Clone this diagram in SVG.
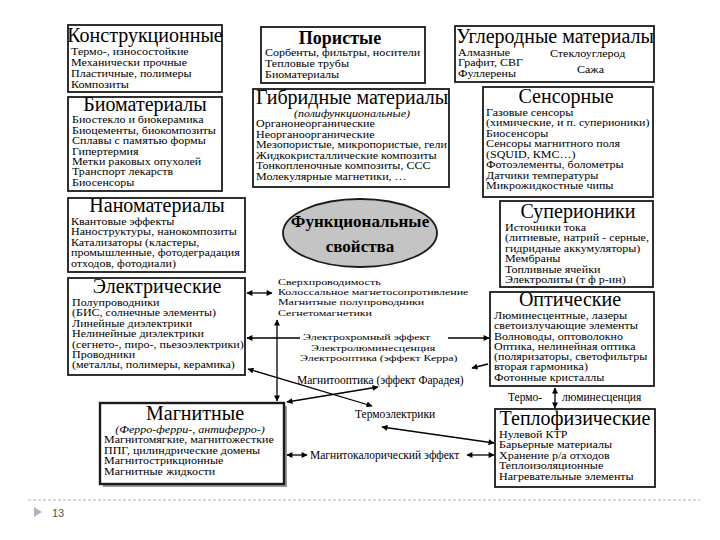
<svg xmlns="http://www.w3.org/2000/svg" width="720" height="540" viewBox="0 0 720 540">
<style>
.box{fill:#fff;stroke:#1a1a1a;stroke-width:1.8}
.sh{fill:#9a9a9a}
.t{font-family:"Liberation Serif",serif;font-size:20px;fill:#000;text-anchor:middle}
.b{font-family:"Liberation Serif",serif;font-size:9.4px;fill:#000}
.m{font-family:"Liberation Serif",serif;font-size:9.2px;fill:#000}
.s{font-family:"Liberation Serif",serif;font-size:11.5px;fill:#000}
.i{font-family:"Liberation Serif",serif;font-size:9.4px;font-style:italic;fill:#000;text-anchor:middle}
.c{stroke:#000;stroke-width:1.3;fill:none;marker-start:url(#ah);marker-end:url(#ah)}
.e{stroke:#000;stroke-width:1.3;fill:none;marker-end:url(#ah)}
</style>
<defs>
<marker id="ah" viewBox="0 0 10 10" refX="9" refY="5" markerWidth="8" markerHeight="6" markerUnits="userSpaceOnUse" orient="auto-start-reverse"><path d="M0,0L10,5L0,10z" fill="#000"/></marker>
</defs>
<rect width="720" height="540" fill="#fff"/>

<g id="konstr">
<rect class="box" x="68" y="25" width="154" height="67"/>
<text class="t" x="145" y="42">Конструкционные</text>
<g transform="matrix(1.28,0,0,1,-19.88,0)">
<text class="b" x="71" y="55">Термо-, износостойкие</text>
<text class="b" x="71" y="66">Механически прочные</text>
<text class="b" x="71" y="77">Пластичные, полимеры</text>
<text class="b" x="71" y="88">Композиты</text>
</g>
</g>

<g id="porist">
<rect class="box" x="261" y="27" width="164" height="56"/>
<text class="t" x="340" y="44" style="font-weight:bold;font-size:18px">Пористые</text>
<g transform="matrix(1.28,0,0,1,-74.2,0)">
<text class="b" x="265" y="56">Сорбенты, фильтры, носители</text>
<text class="b" x="265" y="67">Тепловые трубы</text>
<text class="b" x="265" y="78">Биоматериалы</text>
</g>
</g>

<g id="uglerod">
<rect class="box" x="455" y="26" width="199" height="56"/>
<text class="t" x="555" y="43">Углеродные материалы</text>
<g transform="matrix(1.28,0,0,1,-128.24,0)">
<text class="b" x="458" y="56">Алмазные</text>
<text class="b" x="458" y="66.5">Графит, СВГ</text>
<text class="b" x="458" y="77">Фуллерены</text>
<text class="b" x="529.9" y="57">Стеклоуглерод</text>
<text class="b" x="551" y="73">Сажа</text>
</g>
</g>

<g id="bio">
<rect class="box" x="68" y="97" width="154" height="94"/>
<text class="t" x="145" y="110.5">Биоматериалы</text>
<g transform="matrix(1.28,0,0,1,-20.16,0)">
<text class="b" x="72" y="123.5">Биостекло и биокерамика</text>
<text class="b" x="72" y="133.9">Биоцементы, биокомпозиты</text>
<text class="b" x="72" y="144.3">Сплавы с памятью формы</text>
<text class="b" x="72" y="154.7">Гипертермия</text>
<text class="b" x="72" y="165.1">Метки раковых опухолей</text>
<text class="b" x="72" y="175.5">Транспорт лекарств</text>
<text class="b" x="72" y="185.9">Биосенсоры</text>
</g>
</g>

<g id="hybrid">
<rect class="box" x="253" y="89" width="196" height="98"/>
<text class="t" x="352" y="104">Гибридные материалы</text>
<g transform="matrix(1.28,0,0,1,-98.56,0)">
<text class="i" x="352" y="117">(полифункциональные)</text>
</g>
<g transform="matrix(1.28,0,0,1,-71.68,0)">
<text class="b" x="256" y="127.5">Органонеорганические</text>
<text class="b" x="256" y="138">Неорганоорганические</text>
<text class="b" x="256" y="148.5">Мезопористые, микропористые, гели</text>
<text class="b" x="256" y="159">Жидкокристаллические композиты</text>
<text class="b" x="256" y="169.5">Тонкопленочные композиты, ССС</text>
<text class="b" x="256" y="180">Молекулярные магнетики, …</text>
</g>
</g>

<g id="sensor">
<rect class="box" x="483" y="87" width="170" height="110"/>
<text class="t" x="566" y="103">Сенсорные</text>
<g transform="matrix(1.28,0,0,1,-136.08,0)">
<text class="b" x="486" y="116">Газовые сенсоры</text>
<text class="b" x="486" y="126.5">(химические, и п. суперионики)</text>
<text class="b" x="486" y="137">Биосенсоры</text>
<text class="b" x="486" y="147.5">Сенсоры магнитного поля</text>
<text class="b" x="486" y="158">(SQUID, КМС…)</text>
<text class="b" x="486" y="168.5">Фотоэлементы, болометры</text>
<text class="b" x="486" y="179">Датчики температуры</text>
<text class="b" x="486" y="189.5">Микрожидкостные чипы</text>
</g>
</g>

<g id="nano">
<rect class="box" x="68" y="198" width="177" height="74"/>
<text class="t" x="157" y="212">Наноматериалы</text>
<g transform="matrix(1.28,0,0,1,-19.88,0)">
<text class="b" x="71" y="225">Квантовые эффекты</text>
<text class="b" x="71" y="235.5">Наноструктуры, нанокомпозиты</text>
<text class="b" x="71" y="246">Катализаторы (кластеры,</text>
<text class="b" x="71" y="256.5">промышленные, фотодеградация</text>
<text class="b" x="71" y="267">отходов, фотодиали)</text>
</g>
</g>

<g id="func">
<ellipse cx="360" cy="233" rx="77" ry="34" fill="#c4c4c4" stroke="#1a1a1a" stroke-width="1.8"/>
<text class="t" x="360" y="227" style="font-weight:bold;font-size:17px">Функциональные</text>
<text class="t" x="360" y="252" style="font-weight:bold;font-size:17px">свойства</text>
</g>

<g id="super">
<rect class="box" x="500" y="201" width="153" height="86"/>
<text class="t" x="578" y="218">Суперионики</text>
<g transform="matrix(1.28,0,0,1,-141.4,0)">
<text class="b" x="505" y="231">Источники тока</text>
<text class="b" x="505" y="241.4">(литиевые, натрий - серные,</text>
<text class="b" x="505" y="251.8">гидридные аккумуляторы)</text>
<text class="b" x="505" y="262.2">Мембраны</text>
<text class="b" x="505" y="272.6">Топливные ячейки</text>
<text class="b" x="505" y="283">Электролиты (т ф р-ин)</text>
</g>
</g>

<g id="elec">
<rect class="box" x="68" y="278" width="177" height="97"/>
<text class="t" x="157" y="293">Электрические</text>
<g transform="matrix(1.28,0,0,1,-20.16,0)">
<text class="b" x="72" y="306">Полупроводники</text>
<text class="b" x="72" y="316.4">(БИС, солнечные элементы)</text>
<text class="b" x="72" y="326.8">Линейные диэлектрики</text>
<text class="b" x="72" y="337.2">Нелинейные диэлектрики</text>
<text class="b" x="72" y="347.6">(сегнето-, пиро-, пьезоэлектрики)</text>
<text class="b" x="72" y="358">Проводники</text>
<text class="b" x="72" y="368.4">(металлы, полимеры, керамика)</text>
</g>
</g>

<g id="optic">
<rect class="box" x="490" y="292" width="164" height="94"/>
<text class="t" x="570" y="306">Оптические</text>
<g transform="matrix(1.28,0,0,1,-138.32,0)">
<text class="b" x="494" y="319">Люминесцентные, лазеры</text>
<text class="b" x="494" y="329.3">светоизлучающие элементы</text>
<text class="b" x="494" y="339.6">Волноводы, оптоволокно</text>
<text class="b" x="494" y="349.9">Оптика, нелинейная оптика</text>
<text class="b" x="494" y="360.2">(поляризаторы, светофильтры</text>
<text class="b" x="494" y="370.5">вторая гармоника)</text>
<text class="b" x="494" y="380.8">Фотонные кристаллы</text>
</g>
</g>

<g id="teplo">
<rect class="box" x="495" y="409" width="160" height="78"/>
<text class="t" x="575" y="425">Теплофизические</text>
<g transform="matrix(1.28,0,0,1,-139.72,0)">
<text class="b" x="499" y="438">Нулевой КТР</text>
<text class="b" x="499" y="448.4">Барьерные материалы</text>
<text class="b" x="499" y="458.8">Хранение р/а отходов</text>
<text class="b" x="499" y="469.2">Теплоизоляционные</text>
<text class="b" x="499" y="479.6">Нагревательные элементы</text>
</g>
</g>

<g id="magn">
<rect class="sh" x="103" y="406" width="184" height="81"/>
<rect class="box" x="100" y="403" width="184" height="81" style="stroke-width:2.4"/>
<text class="t" x="195" y="420">Магнитные</text>
<g transform="matrix(1.28,0,0,1,-53.2,0)">
<text class="i" x="190" y="433">(Ферро-ферри-, антиферро-)</text>
</g>
<g transform="matrix(1.28,0,0,1,-29.12,0)">
<text class="b" x="104" y="443.5">Магнитомягкие, магнитожесткие</text>
<text class="b" x="104" y="453.9">ППГ, цилиндрические домены</text>
<text class="b" x="104" y="464.3">Магнитострикционные</text>
<text class="b" x="104" y="474.7">Магнитные жидкости</text>
</g>
</g>

<g id="labels">
<g transform="matrix(1.3,0,0,1,-83.4,0)">
<text class="m" x="278" y="285">Сверхпроводимость</text>
<text class="m" x="278" y="295.2">Колоссальное магнетосопротивление</text>
<text class="m" x="278" y="305.4">Магнитные полупроводники</text>
<text class="m" x="278" y="315.6">Сегнетомагнетики</text>
</g>
<g transform="matrix(1.3,0,0,1,-90,0)">
<text class="m" x="302.3" y="340.5">Электрохромный эффект</text>
<text class="m" x="308.5" y="350.7">Электролюминесценция</text>
<text class="m" x="300" y="360.9">Электрооптика (эффект Керра)</text>
</g>
<text class="s" x="297" y="384">Магнитооптика (эффект Фарадея)</text>
<text class="s" x="355" y="418">Термоэлектрики</text>
<text class="s" x="310" y="459">Магнитокалорический эффект</text>
<text class="s" x="508" y="401">Термо-</text>
<text class="s" x="562" y="401">люминесценция</text>
</g>

<g id="connectors">
<line class="c" x1="247" y1="293" x2="272" y2="293"/>
<line class="c" x1="277" y1="320" x2="277" y2="401"/>
<line class="e" x1="300" y1="338" x2="247" y2="338"/>
<line class="e" x1="448" y1="338" x2="489" y2="338"/>
<line class="c" x1="248" y1="369" x2="372" y2="406"/>
<line class="c" x1="287" y1="402" x2="378" y2="387"/>
<line class="e" x1="488" y1="364" x2="472" y2="368"/>
<line class="c" x1="382" y1="427" x2="494" y2="443"/>
<line class="c" x1="287" y1="455" x2="307" y2="455"/>
<line class="c" x1="467" y1="455" x2="494" y2="455"/>
<line class="c" x1="555" y1="388" x2="555" y2="408"/>
</g>

<g id="footer">
<line x1="28" y1="500" x2="700" y2="500" stroke="#b0b0b0" stroke-width="1" stroke-dasharray="3,2"/>
<path d="M34,507L42,512L34,517z" fill="#a9b4c2"/>
<text x="52" y="517" style="font-family:'Liberation Sans',sans-serif;font-size:11px;fill:#555">13</text>
</g>
</svg>
